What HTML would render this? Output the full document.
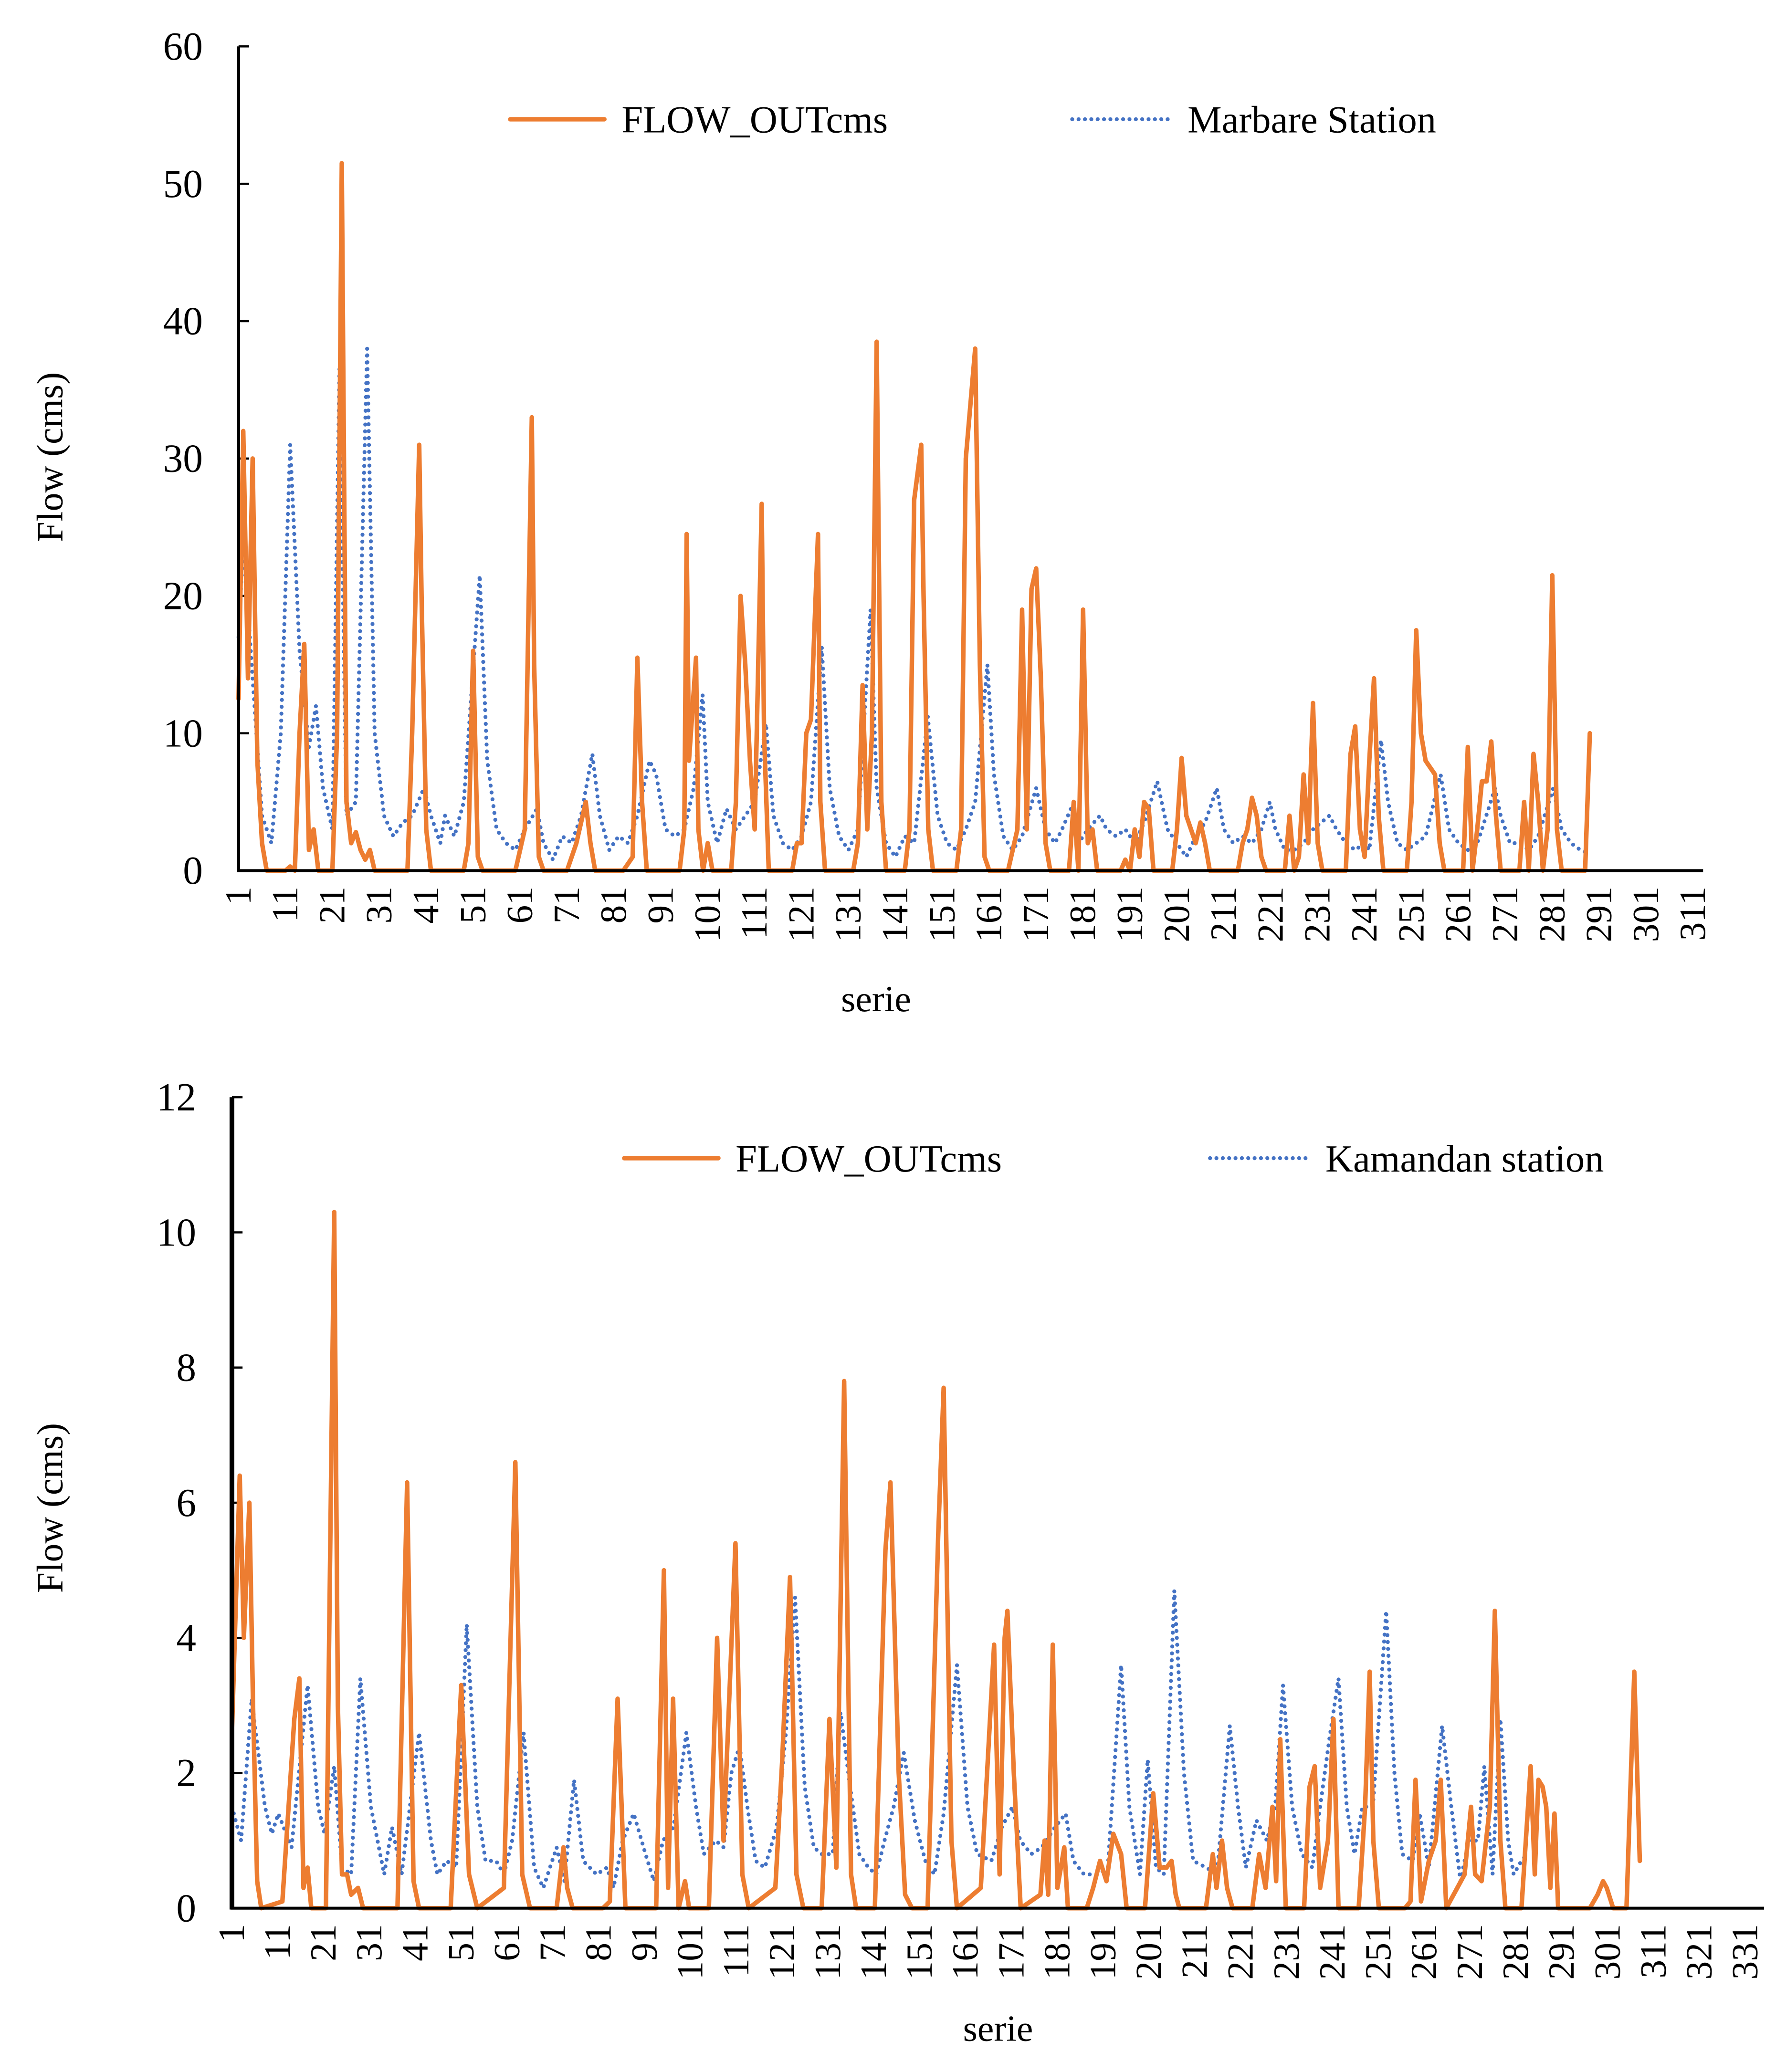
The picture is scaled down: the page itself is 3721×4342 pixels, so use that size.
<!DOCTYPE html>
<html><head><meta charset="utf-8"><style>
html,body{margin:0;padding:0;background:#fff;}
svg{display:block;}
text{font-family:"Liberation Serif",serif;fill:#000;}
</style></head><body>
<svg id="chart" width="3721" height="4342" viewBox="0 0 1340 1563.6" xmlns="http://www.w3.org/2000/svg">
<rect width="1340" height="1563.6" fill="#fff"/>
</svg>
<script>
// ---- Top chart data (category index, value) ----
const topOrangeCat=[1,2,3,4,5,6,7,11,12,13,14,15,16,17,18,21,22,23,24,25,26,27,28,29,30,37,38,39.5,40,41,42,49,50,51,52,53,60,62,63.5,64,65,66,71,73,75,76,77,83,85,86,87,88,95,96,96.5,97,98.5,99,100,101,102,106,107,108,109,110,111,112.5,113,114,119,120,121,122,123,124.5,125,126,132,133,134,135,136,137,138,139,143,144,145,146.5,147,148,149,154,155,156,158,159,160,161,165,167,168,169,170,171,172,173,174,178,179,180,181,182,183,184,189,190,191,192,193,194,195,196,200,201,202,203,204,205,206,207,208,214,215,216,217,218,219,220,224,225,226,227,228,229,230,231,232,237,238,239,240,241,242,243,244,245,250,251,252,253,254,255,256,257,258,262,263,264,265,266,267,268,269,270,274,275,276,277,278,279,280,281,282,283,288,289];
const topOrangeVal=[12.5,32,14,30,8,2,0,0,0.3,0,10,16.5,1.5,3,0,0,10,51.5,5,2,2.8,1.5,0.8,1.5,0,0,10,31,20,3,0,0,2,16,1,0,0,3,33,15,1,0,0,2,5,2,0,0,1,15.5,5,0,0,3,24.5,8,15.5,3,0,2,0,0,5,20,15,8,3,26.7,10,0,0,2,2,10,11,24.5,5,0,0,2,13.5,3,10,38.5,5,0,0,3,27,31,20,3,0,0,3,30,38,15,1,0,0,3,19,3,20.5,22,14,2,0,0,5,0,19,2,3,0,0,0.8,0,3,1,5,4.5,0,0,3,8.2,4,3,2,3.5,2,0,0,2,3,5.3,4,1,0,0,4,0,1,7,2,12.2,2,0,0,8.5,10.5,3,1,8,14,4,0,0,5,17.5,10,8,7.5,7,2,0,0,9,0,3,6.5,6.5,9.4,4,0,0,5,0,8.5,5,0,3,21.5,3,0,0,10];
const topBlueCat=[1,2,4,6,8,10,12,14,16,17.5,19,21,22.5,24,26,28.4,30,32,34,36,38,40.5,42,44,45,47,49,52.4,54,56,58,60,62,64.6,66,68,70,72,74,76.4,78,80,82,84,86,88.6,90,92,94,96,98,99.9,101,103,105,107,109,111,113.4,115,117,119,121,123,125.3,127,129,131,133,135.7,137,139,141,143,145,147.9,150,152,154,156,158,160.6,162,164,166,168,171,173,175,176.5,178.4,180,182,184.6,186,188,190,192,194,196.8,199,201,203,205,207,209.5,211,213,215,217,219,220.8,222,224,226,228,230,233.5,235,237,239,241,242,244.5,246,248,250,252,254,257.2,259,261,263,265,266,268.8,270,272,274,276,278,281.2,283,285,287,289];
const topBlueVal=[17,24,14,4,2,10,31,16,9,12,6,3,36.5,4,5,38,10,4,2.5,3.5,4,6,4,2,4,2.5,5,21.5,8,3,2,1.5,3,4.5,2,0.8,2.5,2,4,8.5,4,1.5,2.5,2,4,8,7,3,2.5,3,6,12.8,5,2,4.5,3,4,5,10.7,4,2,1.5,2.5,5,16.3,6,2.5,1.5,3,19,6,2,1,2.5,2,11.2,4,2,1.5,3,5,15,7,2.5,1.5,2.5,6,3,2,3,4.5,2,3,4,3,2.5,3,2,3.5,6.5,3,2,1,2.5,3.5,6,3,2,2.5,2,3,5,3,1.5,1.5,2,3,4,3,2,1.5,2,1.5,9.5,5,2,1.5,2,2.5,7,3,2,1.5,2,3,6,4,2,2,1.5,2.5,6,3,2,1.5,1.2];
const topYTicks=[0,10,20,30,40,50,60];
const topXLabels=[1,11,21,31,41,51,61,71,81,91,101,111,121,131,141,151,161,171,181,191,201,211,221,231,241,251,261,271,281,291,301,311];

// ---- Bottom chart data ----
const botOrangeCat=[1,2.7,3.6,4.8,5.6,6.5,7.4,12,14.6,15.7,16.6,17.5,18.3,21.5,23.3,24.1,25,26.1,27,28.5,29.6,37.1,39.2,40.6,41.8,48.7,51,52.7,54.5,60.3,62.8,64.3,66,71.8,73.3,74.1,75.3,81.9,83.4,85.1,86.8,93.5,95.2,96.1,97.2,98.4,99.8,100.7,105,106.8,108.2,110.8,112.3,113.7,119.5,121,122.7,124.1,125.6,129.6,131.3,132.8,134.5,136,137.1,141.2,143.5,144.6,146.4,147.8,149.3,152.7,155,156.2,157.9,159.1,164.3,167.2,168.4,169.5,170.1,171.5,173,177.3,178.2,179,180,181,182.5,183.3,187.4,188.8,190.3,191.7,193.2,194.9,196.1,200.1,201.9,203.3,204.8,205.9,206.8,207.6,213.4,214.9,215.7,216.9,218,219.2,223.5,225,226.4,227.9,228.7,229.6,230.8,234.8,236,237.1,238.3,240,241.2,242.3,246.7,248.1,249.1,249.9,251.1,256.8,258,259.1,260.3,262,263.5,264.6,265.8,269.8,271.2,272.1,273.5,275.3,276.4,277.6,278.7,282.2,284.2,285.1,285.9,286.8,287.6,288.5,289.4,290.2,297.1,298.8,300,300.8,302.2,305.1,306.8,308];
const botOrangeVal=[2.6,6.4,4,6,3,0.4,0,0.1,2.8,3.4,0.3,0.6,0,0,10.3,3,0.5,0.5,0.2,0.3,0,0,6.3,0.4,0,0,3.3,0.5,0,0.3,6.6,0.5,0,0,0.9,0.3,0,0,0.1,3.1,0,0,5,0.3,3.1,0,0.4,0,0,4,1,5.4,0.5,0,0.3,2.2,4.9,0.5,0,0,2.8,0.6,7.8,0.5,0,0,5.3,6.3,2,0.2,0,0,5.5,7.7,1,0,0.3,3.9,0.5,4,4.4,2,0,0.2,1,0.2,3.9,0.3,0.9,0,0,0.3,0.7,0.4,1.1,0.8,0,0,1.7,0.6,0.6,0.7,0.2,0,0,0.8,0.3,1,0.3,0,0,0.8,0.3,1.5,0.4,2.5,0,0,1.8,2.1,0.3,1,2.8,0,0,1.5,3.5,1,0,0,0.1,1.9,0.1,0.7,1,1.9,0,0.5,1.5,0.5,0.4,1.5,4.4,1,0,0,2.1,0.5,1.9,1.8,1.5,0.3,1.4,0,0,0.2,0.4,0.3,0,0,3.5,0.7];
const botBlueCat=[1,3,5.3,8.2,9.7,11.1,14,17.5,19.8,21.2,23.3,25,27,29,31.3,34.2,35.9,38,41.8,44.4,45.8,47.8,49.9,52.2,54.5,56.3,58.6,60.3,62.1,64.6,66.9,68.9,71.8,73.5,75.6,77.6,80.5,82.8,84.2,86.2,88.6,91.2,93,95,97.3,100.1,102.2,103.9,106.5,108.2,109.9,111.7,113.4,115.2,117.2,119.8,121.8,123.8,125.9,127.9,129.6,132,133.7,135.8,137.8,139.8,141.5,143.3,145.3,147.5,149.9,152.2,154.2,156.2,159.1,161.4,163.5,166.6,168.9,171.2,172.9,175.3,177.6,180.5,182.8,184.5,186.8,189.7,192,194.9,196.7,199,200.7,202.5,204.2,206.5,208.6,210.6,213.5,215.8,218.6,220.4,222.1,224.4,226.7,228.5,230.2,232.2,234.3,236.6,238.3,240.3,242.3,244.1,245.8,247.5,249.8,252.7,254.5,256.2,258.5,260,262,264.9,266.9,268.9,270.7,272.7,274.1,275.9,277.6,279.3,280.5,282.2,283.4];
const botBlueVal=[1.5,1,3.1,1.5,1.1,1.4,0.9,3.3,1.5,1.1,2.1,0.6,0.5,3.4,1.5,0.5,1.2,0.5,2.6,1,0.5,0.7,0.6,4.2,1.5,0.7,0.7,0.5,1,2.6,0.6,0.3,0.9,0.4,1.9,0.7,0.5,0.6,0.3,1,1.4,0.8,0.4,1,1.2,2.6,1.5,0.8,1,0.9,2,2.4,1.5,0.7,0.6,1.2,2.6,4.6,1.8,0.9,0.8,0.8,2.9,1.8,0.8,0.6,0.5,1,1.5,2.3,1.3,0.7,0.5,1.4,3.6,1.5,0.8,0.7,1.2,1.5,1,0.8,0.9,1.2,1.4,0.7,0.5,0.5,0.6,3.6,1.5,0.5,2.2,0.6,0.5,4.7,2,0.7,0.6,0.5,2.7,1.5,0.6,1.3,1,1.5,3.3,1.5,0.8,0.6,1.5,2.5,3.4,1.5,0.8,1.5,1.5,4.4,2,0.8,0.7,1.4,0.6,2.7,1.5,0.4,1,1,2.1,0.5,2.8,1,0.5,0.7,0.8];
const botYTicks=[0,2,4,6,8,10,12];
const botXLabels=[1,11,21,31,41,51,61,71,81,91,101,111,121,131,141,151,161,171,181,191,201,211,221,231,241,251,261,271,281,291,301,311,321,331];

const NS='http://www.w3.org/2000/svg';
const svg=document.getElementById('chart');
function mk(tag,attrs,parent){const e=document.createElementNS(NS,tag);for(const k in attrs)e.setAttribute(k,attrs[k]);(parent||svg).appendChild(e);return e;}

function drawChart(cfg){
  const g=mk('g',{});
  
  
  const xOf=c=>cfg.x0+(c-1)*cfg.dx;
  const yOf=v=>cfg.y0-(v/cfg.yMax)*(cfg.y0-cfg.yTop);
  cfg.yTicks.forEach(t=>{
    const tk=mk('line',{x1:cfg.x0,x2:cfg.x0+8,y1:yOf(t),y2:yOf(t),stroke:'#000','stroke-width':1.6},g);
    
    
    const tl=mk('text',{x:cfg.x0-27,y:yOf(t)+10,'text-anchor':'end','font-size':30},g);
    tl.textContent=t;
    
    
  });
  cfg.xLabels.forEach(l=>{
    const x=xOf(l)+9, y=cfg.y0+12;
    const tl=mk('text',{x:x,y:y,'text-anchor':'end','font-size':28,transform:`rotate(-90 ${x} ${y})`},g);
    tl.textContent=l;
    
    
  });
  const pts=(cs,vs)=>cs.map((c,i)=>xOf(c).toFixed(2)+','+yOf(vs[i]).toFixed(2)).join(' ');
  const bl=mk('polyline',{points:pts(cfg.blueCat,cfg.blueVal),fill:'none',stroke:'#4472C4','stroke-width':3,'stroke-linecap':'round','stroke-dasharray':'0 5.2','stroke-linejoin':'round'},g);
  
  
  const ol=mk('polyline',{points:pts(cfg.orCat,cfg.orVal),fill:'none',stroke:'#ED7D31','stroke-width':3.4,'stroke-linejoin':'round','stroke-linecap':'round'},g);
  
  
  const ya=mk('line',{x1:cfg.x0,x2:cfg.x0,y1:cfg.yTop,y2:cfg.y0+1,stroke:'#000','stroke-width':cfg.yw},g);
  
  
  const xa=mk('line',{x1:cfg.x0-1,x2:cfg.xEnd,y1:cfg.y0,y2:cfg.y0,stroke:'#000','stroke-width':2.2},g);
  
  
  const xt=mk('text',{x:cfg.xTitleX,y:cfg.xTitleY,'text-anchor':'middle','font-size':28},g);
  xt.textContent='serie';
  
  
  const yt=mk('text',{x:47,y:cfg.yTitleY,'text-anchor':'middle','font-size':28,transform:`rotate(-90 47 ${cfg.yTitleY})`},g);
  yt.textContent='Flow (cms)';
  
  
  const l1=mk('line',{x1:cfg.lgX1,x2:cfg.lgX1+71,y1:cfg.lgY,y2:cfg.lgY,stroke:'#ED7D31','stroke-width':3.4,'stroke-linecap':'round'},g);
  
  
  const t1=mk('text',{x:cfg.lgX1+84,y:cfg.lgY+10,'font-size':29},g);
  t1.textContent='FLOW_OUTcms';
  
  
  const l2=mk('line',{x1:cfg.lgX2,x2:cfg.lgX2+76,y1:cfg.lgY,y2:cfg.lgY,stroke:'#4472C4','stroke-width':3,'stroke-linecap':'round','stroke-dasharray':'0 4.8'},g);
  
  
  const t2=mk('text',{x:cfg.lgX2+87,y:cfg.lgY+10,'font-size':29},g);
  t2.textContent=cfg.stationName;
  
  
}

drawChart({name:'marbare-chart',x0:180,dx:3.54,y0:657,yTop:35,yMax:60,xEnd:1285,yw:2.2,
  yTicks:topYTicks,xLabels:topXLabels,orCat:topOrangeCat,orVal:topOrangeVal,blueCat:topBlueCat,blueVal:topBlueVal,
  xTitleX:661,xTitleY:763,yTitleY:345,lgX1:385,lgX2:809,lgY:90,stationName:'Marbare Station'});
drawChart({name:'kamandan-chart',x0:175,dx:3.46,y0:1440,yTop:828,yMax:12,xEnd:1331,yw:3.6,
  yTicks:botYTicks,xLabels:botXLabels,orCat:botOrangeCat,orVal:botOrangeVal,blueCat:botBlueCat,blueVal:botBlueVal,
  xTitleX:753,xTitleY:1540,yTitleY:1138,lgX1:471,lgX2:913,lgY:874,stationName:'Kamandan station'});
</script>
</body></html>
